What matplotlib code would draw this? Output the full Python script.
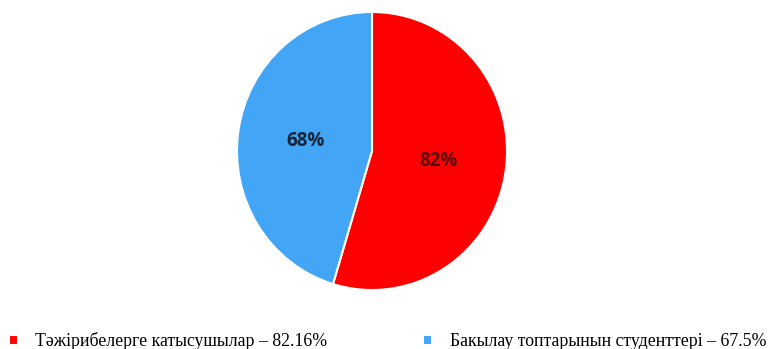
import numpy as np
import matplotlib.pyplot as plt

# slice values (shown as rounded percentages) and legend labels
values = [82, 68]
pct_labels = ['82%', '68%']
legend_labels = ['Тәжірибелерге катысушылар – 82.16%',
                 'Бакылау топтарынын студенттері – 67.5%']
colors = ['#ff0000', '#42a5f5']
text_colors = ['#5a0a0a', '#16253a']

fig = plt.figure(figsize=(7.71, 3.49), dpi=100)
# pie axes: centre ~ (372,151) px, radius ~135 px wide, ~139 px tall
ax = fig.add_axes([(372 - 135) / 771, 1 - (151 + 139) / 349, 270 / 771, 278 / 349])

wedges, texts = ax.pie(values, colors=colors, startangle=90, counterclock=False,
                       wedgeprops=dict(edgecolor='white', linewidth=1.5))
ax.set_aspect('auto')
ax.set_xlim(-1, 1)
ax.set_ylim(-1, 1)

for w, lab, tc in zip(wedges, pct_labels, text_colors):
    ang = np.deg2rad((w.theta1 + w.theta2) / 2)
    ax.text(0.5 * np.cos(ang), 0.5 * np.sin(ang), lab, ha='center', va='center',
            fontsize=13.5, fontweight='bold', color=tc, family='Open Sans')

leg = fig.legend(wedges, legend_labels, loc='center left', bbox_to_anchor=(9 / 771, 8 / 349),
                 ncol=2, frameon=False, handlelength=0.48, handleheight=0.48,
                 handletextpad=1.0, columnspacing=5.4, borderpad=0, borderaxespad=0,
                 prop=dict(family='Liberation Serif', size=12.8))

fig.savefig('out.png', dpi=100)
